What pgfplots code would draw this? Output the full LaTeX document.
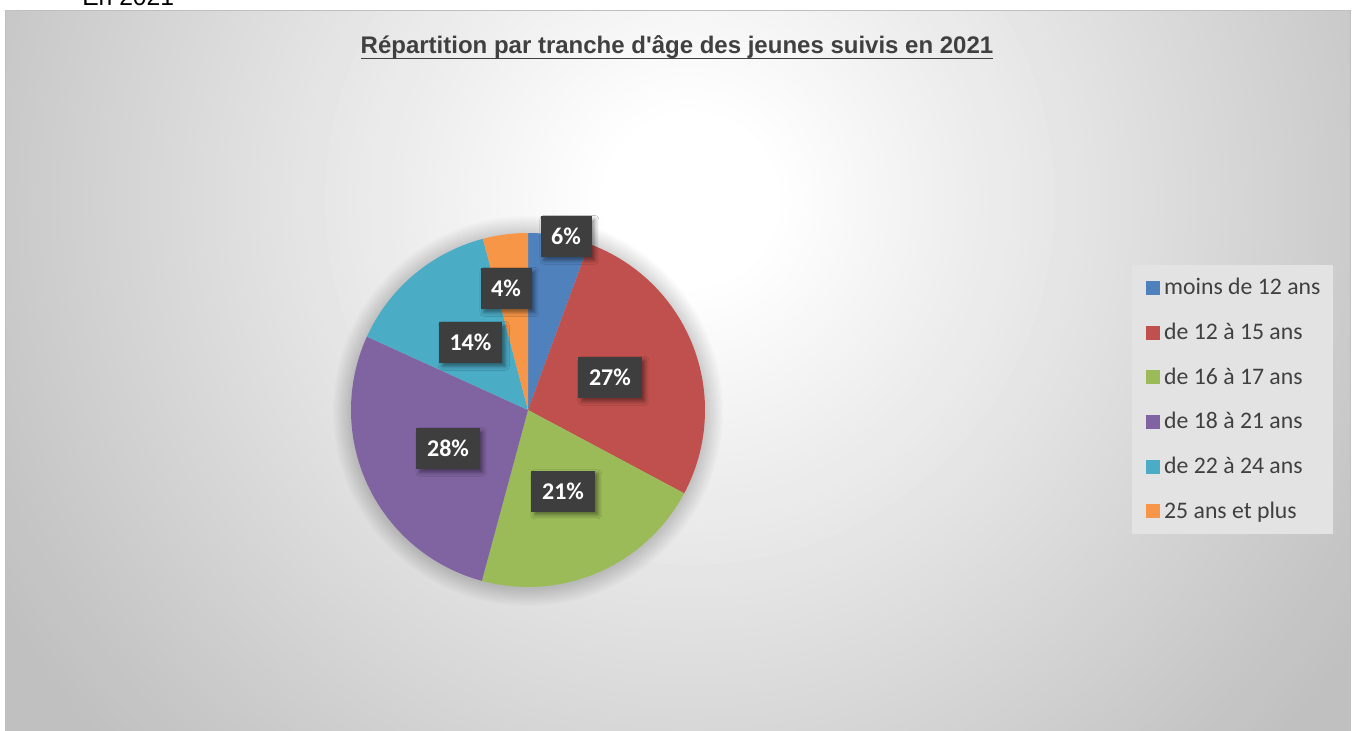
\documentclass[border=0pt]{standalone}
\usepackage{pgfplots}
\pgfplotsset{compat=1.18}
\usepackage{pgfplotstable}
\usepackage{fontspec}
\setmainfont{Carlito}
\newfontfamily\arial{Liberation Sans}
\usetikzlibrary{shadows.blur}
\definecolor{cBlue}{HTML}{4F81BD}
\definecolor{cRed}{HTML}{C0504D}
\definecolor{cGreen}{HTML}{9BBB59}
\definecolor{cPurple}{HTML}{8064A2}
\definecolor{cTeal}{HTML}{4BACC6}
\definecolor{cOrange}{HTML}{F79646}
\definecolor{txt}{HTML}{404040}
\definecolor{bgedge}{HTML}{C0C0C0}
\definecolor{framec}{HTML}{BFBFBF}
\definecolor{labfill}{HTML}{3E3E3E}
\definecolor{legbg}{HTML}{E3E3E3}

\pgfplotstableread[col sep=comma]{
name,value,col
moins de 12 ans,5.6,cBlue
de 12 à 15 ans,27.2,cRed
de 16 à 17 ans,21.4,cGreen
de 18 à 21 ans,27.6,cPurple
de 22 à 24 ans,14.1,cTeal
25 ans et plus,4.1,cOrange
}\piedata

\tikzset{lab/.style={fill=labfill, text=white, font=\bfseries\fontsize{18}{20}\selectfont,
  minimum height=30.75pt, inner xsep=8pt, inner ysep=0pt,
  blur shadow={shadow xshift=2.5pt, shadow yshift=-2.5pt, shadow blur radius=3pt, shadow opacity=45}}}

\begin{document}
\begin{tikzpicture}[x=0.75pt,y=0.75pt]
\useasboundingbox (0,0) rectangle (1356,-731);
\fill[white] (0,0) rectangle (1356,-731);
\node[anchor=base west, font=\arial\fontsize{18.5}{20}\selectfont, inner sep=0pt] at (82,-6) {En 2021};
\begin{scope}
\clip (5,-11) rectangle (1350,-760);
\fill[bgedge] (5,-11) rectangle (1350,-760);
\foreach \k in {0,...,74}{
  \pgfmathsetmacro\r{860-\k*11}
  \pgfmathsetmacro\p{max(0,min(100,(\r-90)/(800-90)*100))}
  \fill[bgedge!\p!white] (690,-200) circle [radius=\r*0.75pt];
}
\end{scope}
\draw[framec, line width=0.75pt] (5,-11) rectangle (1350,-760);
\node[anchor=base, font=\arial\bfseries\fontsize{18}{20}\selectfont, text=txt, inner sep=0pt] at (677,-54) {Répartition par tranche d\textquotesingle âge des jeunes suivis en 2021};
\draw[txt, line width=1.2pt] (361,-58.5) -- (993,-58.5);
% soft glow around the pie
\foreach \k in {1,...,14}{
  \fill[black, opacity=0.01] (528,-411) circle [radius={(177+\k*1.3)*0.75pt}];
}
\begin{axis}[at={(396pt,-307.5pt)}, anchor=origin,
  width=265.5pt, height=265.5pt, scale only axis,
  xmin=-1, xmax=1, ymin=-1, ymax=1, axis lines=none, clip=false,
  legend cell align=left,
  legend image code/.code={\path (0pt,0pt); \fill[#1, draw=none] (3pt,-5.25pt) rectangle (13.5pt,5.25pt);},
  legend style={at={(2.206,0.9096)}, anchor=north west, draw=none, fill=legbg,
    text=txt, font=\fontsize{17.8}{20}\selectfont, inner xsep=7.5pt, inner ysep=7.5pt,
    row sep=14.2pt, column sep=1pt, nodes={inner sep=2pt, text height=12.6pt, text depth=2.7pt}},
]
\def\cum{0}
\pgfplotsforeachungrouped \i in {0,...,5}{%
  \pgfplotstablegetelem{\i}{value}\of\piedata \let\v\pgfplotsretval
  \pgfplotstablegetelem{\i}{name}\of\piedata \let\n\pgfplotsretval
  \pgfplotstablegetelem{\i}{col}\of\piedata \let\c\pgfplotsretval
  \pgfmathsetmacro\aStart{90-3.6*\cum}%
  \pgfmathsetmacro\aEnd{90-3.6*(\cum+\v)}%
  \pgfmathsetmacro\cum{\cum+\v}%
  \edef\cmd{\noexpand\addplot[fill=\c, draw=none, domain=\aEnd:\aStart, samples=80]
     ({cos(x)},{sin(x)}) -- (axis cs:0,0) -- cycle;
     \noexpand\addlegendentry{\n}}%
  \cmd
}
\node[lab] at (axis cs:0.215,0.980) {6\%};
\node[lab] at (axis cs:-0.124,0.686) {4\%};
\node[lab] at (axis cs:0.463,0.184) {27\%};
\node[lab] at (axis cs:0.198,-0.458) {21\%};
\node[lab] at (axis cs:-0.452,-0.218) {28\%};
\node[lab] at (axis cs:-0.325,0.381) {14\%};
\end{axis}
\end{tikzpicture}
\end{document}
